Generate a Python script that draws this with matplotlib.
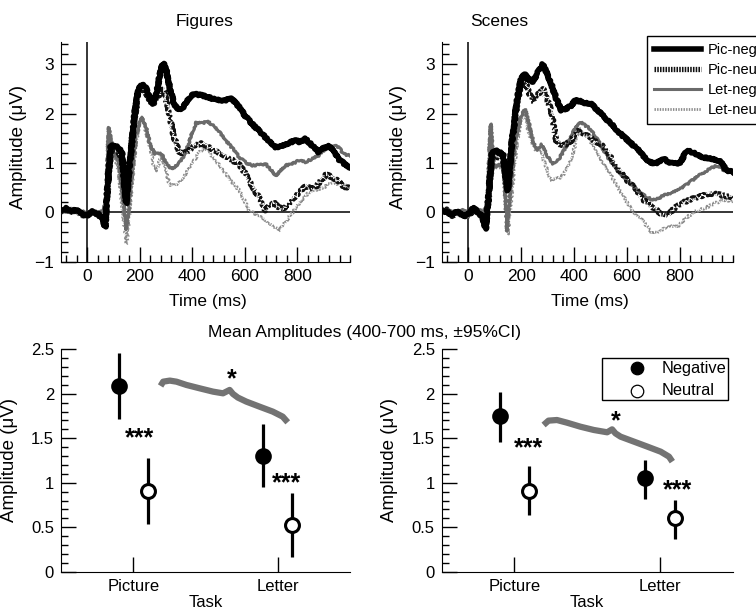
import numpy as np
import matplotlib
matplotlib.use("Agg")
import matplotlib.pyplot as plt
from matplotlib.ticker import MultipleLocator, FormatStrFormatter
from matplotlib.lines import Line2D
from matplotlib.patches import Rectangle

plt.rcParams['font.family'] = ['Liberation Sans', 'DejaVu Sans']

W, H = 756.0, 613.0

# ---- ERP waveforms, (time ms, amplitude uV) ----
fig_picneg = [(-100, 0.05), (-80, 0.08), (-60, 0.02), (-40, 0.06), (-20, -0.04), (0, -0.08), (20, 0.02),
              (40, -0.03), (58, -0.12), (68, -0.3), (78, 0.6), (90, 1.35), (105, 1.35), (120, 1.3),
              (132, 1.2), (140, 0.7), (148, 0.18), (160, 0.9), (180, 2.0), (195, 2.5), (210, 2.6),
              (225, 2.5), (240, 2.3), (251, 2.2), (265, 2.45), (280, 2.9), (290, 3.02), (300, 2.9),
              (315, 2.5), (330, 2.2), (345, 2.08), (360, 2.1), (380, 2.25), (400, 2.4), (428, 2.38),
              (460, 2.33), (490, 2.28), (520, 2.25), (547, 2.32), (575, 2.15), (604, 1.93), (635, 1.75),
              (667, 1.58), (695, 1.42), (717, 1.32), (735, 1.34), (755, 1.38), (775, 1.42), (792, 1.46),
              (810, 1.42), (830, 1.49), (862, 1.32), (880, 1.22), (893, 1.28), (918, 1.35), (935, 1.25),
              (956, 1.08), (975, 1.0), (1000, 0.88)]
fig_picneu = [(-100, 0.02), (-80, 0.06), (-60, 0.0), (-40, 0.05), (-20, -0.06), (0, -0.05), (20, 0.03),
              (40, -0.05), (58, -0.1), (68, -0.28), (78, 0.5), (90, 1.25), (105, 1.25), (120, 1.2),
              (132, 1.1), (140, 0.6), (148, 0.2), (160, 0.85), (180, 1.9), (195, 2.4), (210, 2.5),
              (225, 2.4), (240, 2.25), (251, 2.2), (265, 2.3), (280, 2.45), (289, 2.5), (300, 2.3),
              (314, 1.95), (328, 1.55), (340, 1.38), (350, 1.22), (365, 1.2), (385, 1.25), (410, 1.35),
              (434, 1.4), (460, 1.32), (503, 1.2), (540, 1.1), (579, 0.96), (600, 0.8), (617, 0.62),
              (635, 0.45), (654, 0.3), (668, 0.12), (680, 0.04), (695, 0.15), (710, 0.2), (725, 0.12),
              (742, 0.06), (767, 0.16), (785, 0.28), (805, 0.4), (830, 0.54), (850, 0.48), (868, 0.5),
              (890, 0.65), (912, 0.78), (930, 0.7), (943, 0.68), (965, 0.58), (981, 0.5), (1000, 0.5)]
fig_letneg = [(-100, 0.0), (-80, 0.05), (-60, 0.08), (-40, 0.0), (-20, 0.02), (0, -0.02), (20, 0.04),
              (40, 0.0), (60, 0.02), (70, 0.2), (82, 1.72), (95, 1.3), (107, 1.18), (120, 1.0),
              (135, 0.3), (150, -0.35), (165, 0.5), (185, 1.5), (200, 1.85), (210, 1.92), (225, 1.7),
              (240, 1.35), (258, 1.18), (270, 1.2), (283, 1.18), (300, 1.0), (321, 0.88), (340, 0.95),
              (358, 1.05), (380, 1.3), (402, 1.66), (415, 1.82), (440, 1.8), (455, 1.85), (478, 1.76),
              (503, 1.62), (528, 1.45), (555, 1.28), (579, 1.11), (605, 1.0), (629, 0.95), (655, 0.96),
              (679, 0.98), (700, 0.85), (717, 0.74), (735, 0.85), (755, 0.95), (780, 0.98), (805, 1.05),
              (830, 1.02), (855, 1.08), (880, 1.15), (905, 1.28), (925, 1.3), (943, 1.35), (960, 1.3),
              (975, 1.18), (1000, 1.15)]
fig_letneu = [(-100, 0.03), (-80, 0.0), (-60, 0.1), (-40, -0.02), (-20, -0.08), (0, -0.1), (20, 0.0),
              (40, -0.02), (60, 0.0), (70, 0.2), (82, 1.7), (95, 1.25), (107, 1.1), (120, 0.8),
              (135, 0.0), (150, -0.64), (165, 0.3), (185, 1.4), (200, 1.85), (210, 1.9), (225, 1.6),
              (239, 1.32), (252, 0.95), (264, 0.84), (275, 1.05), (283, 1.15), (298, 0.85), (314, 0.54),
              (330, 0.55), (346, 0.57), (365, 0.7), (383, 0.85), (402, 1.0), (421, 1.18), (446, 1.32),
              (460, 1.25), (478, 1.11), (503, 0.95), (528, 0.78), (553, 0.6), (579, 0.44), (600, 0.22),
              (617, 0.03), (635, -0.02), (654, -0.07), (672, -0.15), (692, -0.24), (712, -0.3),
              (730, -0.37), (748, -0.25), (767, -0.1), (785, 0.02), (805, 0.17), (825, 0.3), (843, 0.4),
              (862, 0.45), (880, 0.47), (905, 0.52), (930, 0.61), (950, 0.58), (968, 0.57), (1000, 0.5)]

scn_picneg = [(-100, 0.05), (-80, 0.0), (-60, -0.05), (-40, 0.03), (-20, -0.08), (0, -0.05), (20, 0.1),
              (40, -0.02), (55, -0.1), (66, -0.34), (78, 0.4), (90, 1.2), (103, 1.25), (118, 1.22),
              (133, 1.15), (140, 0.8), (150, 0.44), (165, 1.4), (185, 2.3), (200, 2.7), (212, 2.8),
              (225, 2.72), (240, 2.63), (255, 2.75), (270, 2.9), (281, 3.0), (295, 2.85), (314, 2.6),
              (333, 2.3), (352, 2.06), (370, 2.1), (389, 2.16), (405, 2.28), (416, 2.26), (440, 2.22),
              (466, 2.19), (491, 2.06), (516, 1.92), (541, 1.79), (565, 1.65), (590, 1.52), (615, 1.4),
              (640, 1.28), (660, 1.15), (677, 1.05), (702, 0.98), (720, 1.02), (739, 1.08), (758, 1.02),
              (777, 0.98), (802, 1.01), (826, 1.25), (851, 1.21), (870, 1.15), (888, 1.11), (910, 1.1),
              (926, 1.08), (945, 1.05), (957, 1.01), (975, 0.85), (1000, 0.82)]
scn_picneu = [(-100, 0.02), (-80, 0.05), (-60, -0.08), (-40, 0.0), (-20, -0.05), (0, -0.1), (20, 0.06),
              (40, 0.0), (55, -0.12), (66, -0.3), (78, 0.35), (90, 1.1), (103, 1.15), (118, 1.1),
              (133, 1.05), (140, 0.75), (150, 0.45), (165, 1.35), (185, 2.2), (200, 2.6), (212, 2.7),
              (228, 2.45), (246, 2.23), (265, 2.4), (283, 2.5), (298, 2.3), (314, 2.06), (333, 1.45),
              (352, 1.35), (370, 1.38), (389, 1.45), (405, 1.6), (416, 1.65), (441, 1.58), (460, 1.52),
              (478, 1.45), (498, 1.38), (516, 1.31), (535, 1.15), (553, 0.98), (570, 0.85), (590, 0.71),
              (610, 0.6), (628, 0.5), (648, 0.36), (665, 0.24), (690, 0.12), (715, 0.03), (735, -0.05),
              (752, -0.07), (777, 0.07), (795, 0.14), (814, 0.2), (840, 0.26), (864, 0.3), (890, 0.35),
              (913, 0.38), (940, 0.37), (963, 0.34), (1000, 0.3)]
scn_letneg = [(-100, 0.0), (-80, 0.06), (-60, 0.02), (-40, -0.04), (-20, 0.05), (0, -0.02), (20, 0.0),
              (40, 0.05), (60, 0.0), (72, 0.2), (85, 1.79), (97, 0.91), (116, 0.98), (134, 0.91),
              (147, -0.37), (160, 0.5), (180, 1.5), (200, 1.95), (215, 2.09), (230, 1.8), (245, 1.45),
              (259, 1.25), (277, 1.38), (298, 1.15), (320, 0.98), (345, 1.1), (376, 1.38), (400, 1.65),
              (416, 1.79), (426, 1.82), (453, 1.72), (472, 1.6), (491, 1.45), (510, 1.28), (528, 1.11),
              (547, 0.98), (566, 0.84), (585, 0.74), (603, 0.64), (620, 0.55), (640, 0.44), (660, 0.36),
              (678, 0.3), (698, 0.25), (715, 0.27), (735, 0.33), (752, 0.37), (770, 0.4), (790, 0.44),
              (810, 0.5), (827, 0.57), (845, 0.64), (864, 0.71), (882, 0.78), (901, 0.84), (920, 0.9),
              (938, 0.94), (955, 0.9), (969, 0.84), (1000, 0.8)]
scn_letneu = [(-100, 0.04), (-80, -0.02), (-60, 0.05), (-40, -0.06), (-20, 0.0), (0, -0.12), (20, 0.05),
              (40, -0.04), (60, 0.02), (72, 0.2), (85, 1.75), (97, 0.88), (116, 0.95), (134, 0.85),
              (150, -0.44), (165, 0.4), (185, 1.45), (200, 1.85), (212, 1.99), (230, 1.6), (252, 1.25),
              (271, 1.31), (292, 0.95), (314, 0.64), (333, 0.68), (352, 0.71), (370, 0.85), (389, 1.05),
              (406, 1.4), (416, 1.7), (430, 1.65), (453, 1.52), (472, 1.35), (491, 1.18), (510, 1.0),
              (528, 0.84), (547, 0.68), (566, 0.51), (585, 0.34), (603, 0.17), (620, 0.05), (634, -0.07),
              (650, -0.12), (665, -0.2), (680, -0.32), (696, -0.44), (712, -0.4), (727, -0.37),
              (745, -0.32), (765, -0.27), (790, -0.3), (808, -0.2), (827, -0.1), (845, -0.03),
              (864, 0.03), (882, 0.06), (901, 0.1), (920, 0.15), (938, 0.2), (955, 0.22), (975, 0.24),
              (1000, 0.22)]

wave_labels = ['Pic-neg', 'Pic-neu', 'Let-neg', 'Let-neu']

# ---- mean amplitudes 400-700 ms with 95% CI ----
tasks = ['Picture', 'Letter']
fig_neg_mean = [2.09, 1.30]
fig_neg_lo = [1.72, 0.95]
fig_neg_hi = [2.46, 1.66]
fig_neu_mean = [0.91, 0.53]
fig_neu_lo = [0.54, 0.17]
fig_neu_hi = [1.28, 0.89]

scn_neg_mean = [1.75, 1.05]
scn_neg_lo = [1.46, 0.82]
scn_neg_hi = [2.02, 1.26]
scn_neu_mean = [0.91, 0.60]
scn_neu_lo = [0.64, 0.37]
scn_neu_hi = [1.19, 0.81]

# interaction bracket (gray curly line) + significance marks
fig_brace_x = [1.189, 1.207, 1.253, 1.299, 1.368, 1.460, 1.552, 1.621, 1.667, 1.690, 1.724, 1.782, 1.874, 1.966, 2.034, 2.069]
fig_brace_y = [2.088, 2.136, 2.148, 2.136, 2.099, 2.061, 2.024, 2.005, 2.043, 1.998, 1.957, 1.912, 1.855, 1.799, 1.743, 1.679]
scn_brace_x = [1.200, 1.234, 1.292, 1.361, 1.453, 1.545, 1.637, 1.671, 1.694, 1.729, 1.821, 1.913, 2.005, 2.062, 2.085]
scn_brace_y = [1.649, 1.698, 1.705, 1.675, 1.630, 1.593, 1.567, 1.600, 1.555, 1.518, 1.462, 1.406, 1.349, 1.293, 1.237]
fig_stars = [(1.046, 1.50, '***'), (2.06, 0.99, '***'), (1.683, 2.16, '*')]
scn_stars = [(1.094, 1.39, '***'), (2.12, 0.92, '***'), (1.694, 1.69, '*')]


def px(x, y):
	# figure pixel (from top-left) -> figure fraction
	return x / W, 1 - y / H


def style_wave_axes(ax):
	ax.set_xlim(-100, 1000)
	ax.set_ylim(-1, 3.45)
	ax.spines['top'].set_visible(False)
	ax.spines['right'].set_visible(False)
	ax.xaxis.set_major_locator(MultipleLocator(200))
	ax.xaxis.set_minor_locator(MultipleLocator(40))
	ax.yaxis.set_major_locator(MultipleLocator(1))
	ax.yaxis.set_minor_locator(MultipleLocator(0.2))
	ax.set_xticks([0, 200, 400, 600, 800])
	ax.tick_params(which='both', direction='in', top=False, right=False, labelsize=12.5, pad=5)
	ax.tick_params(which='major', length=11, width=1)
	ax.tick_params(which='minor', length=5, width=1)
	ax.axhline(0, color='k', lw=1.1, zorder=1)
	ax.axvline(0, color='k', lw=1.1, zorder=1)
	ax.set_xlabel('Time (ms)', fontsize=12.5)
	ax.xaxis.set_label_coords(0.509, -0.145)
	ax.set_ylabel('Amplitude (\u03bcV)', fontsize=13.5)
	ax.yaxis.set_label_coords(-0.118, 0.52)


def draw_waves(ax, picneg, picneu, letneg, letneu):
	styles = [
		(letneu, dict(color='#8c8c8c', lw=2.0, ls=(0, (0.5, 0.45)))),
		(letneg, dict(color='#6a6a6a', lw=2.2, ls='-')),
		(picneu, dict(color='#111111', lw=3.8, ls=(0, (0.3, 0.22)))),
		(picneg, dict(color='#000000', lw=4.0, ls='-')),
	]
	for pts, st in styles:
		t = [p[0] for p in pts]
		v = [p[1] for p in pts]
		ln, = ax.plot(t, v, zorder=3, **st)
		ln.set_sketch_params(scale=0.9, length=2.5, randomness=3)


def style_mean_axes(ax):
	ax.set_xlim(0.5, 2.5)
	ax.set_ylim(0, 2.5)
	ax.spines['top'].set_visible(False)
	ax.spines['right'].set_visible(False)
	ax.set_xticks([1, 2])
	ax.set_xticklabels(tasks)
	ax.yaxis.set_major_locator(MultipleLocator(0.5))
	ax.yaxis.set_minor_locator(MultipleLocator(0.1))
	ax.yaxis.set_major_formatter(FormatStrFormatter('%g'))
	ax.tick_params(which='both', direction='in', top=False, right=False, labelsize=12, pad=5)
	ax.tick_params(which='major', length=11, width=1)
	ax.tick_params(which='minor', length=5, width=1)
	ax.set_xlabel('Task', fontsize=12, va='top')
	ax.xaxis.set_label_coords(0.5, -0.105)
	ax.set_ylabel('Amplitude (\u03bcV)', fontsize=13.5)
	ax.yaxis.set_label_coords(-0.149, 0.5)


def draw_means(ax, neg, neg_lo, neg_hi, neu, neu_lo, neu_hi, bx, by, stars):
	x = np.arange(1, len(tasks) + 1)
	neg_err = [np.array(neg) - np.array(neg_lo), np.array(neg_hi) - np.array(neg)]
	neu_err = [np.array(neu) - np.array(neu_lo), np.array(neu_hi) - np.array(neu)]
	ax.errorbar(x - 0.1, neg, yerr=neg_err, fmt='o', ms=10, mfc='k', mec='k', mew=2,
		ecolor='k', elinewidth=2.3, capsize=0, zorder=3)
	ax.errorbar(x + 0.1, neu, yerr=neu_err, fmt='o', ms=10, mfc='white', mec='k', mew=2.2,
		ecolor='k', elinewidth=2.3, capsize=0, zorder=3)
	ax.plot(bx, by, color='#737373', lw=4.5, solid_capstyle='butt', solid_joinstyle='round', zorder=2)
	for sx, sy, s in stars:
		ax.text(sx, sy, s, ha='center', va='center', fontsize=18, fontweight='bold')


fig = plt.figure(figsize=(7.56, 6.13), dpi=100)

ax1 = fig.add_axes([0.0807, 0.5731, 0.3823, 0.3584])
ax2 = fig.add_axes([0.5843, 0.5731, 0.3849, 0.3584])
ax3 = fig.add_axes([0.0807, 0.0674, 0.3823, 0.3628])
ax4 = fig.add_axes([0.5843, 0.0674, 0.3849, 0.3628])

for ax in (ax1, ax2):
	style_wave_axes(ax)
draw_waves(ax1, fig_picneg, fig_picneu, fig_letneg, fig_letneu)
draw_waves(ax2, scn_picneg, scn_picneu, scn_letneg, scn_letneu)

# legend for waveforms (runs off the right edge like the original)
handles = [
	Line2D([], [], color='#000000', lw=4.0),
	Line2D([], [], color='#111111', lw=3.8, ls=(0, (0.3, 0.22))),
	Line2D([], [], color='#6a6a6a', lw=2.2),
	Line2D([], [], color='#8c8c8c', lw=2.0, ls=(0, (0.5, 0.45))),
]
leg = fig.legend(handles, wave_labels, loc='upper left', bbox_to_anchor=px(647, 36),
	fontsize=10.5, frameon=True, fancybox=False, framealpha=1, edgecolor='k',
	handlelength=3.2, handletextpad=0.45, labelspacing=0.4, borderpad=0.5, borderaxespad=0)
leg.get_frame().set_linewidth(1)

for ax in (ax3, ax4):
	style_mean_axes(ax)
draw_means(ax3, fig_neg_mean, fig_neg_lo, fig_neg_hi, fig_neu_mean, fig_neu_lo, fig_neu_hi,
	fig_brace_x, fig_brace_y, fig_stars)
draw_means(ax4, scn_neg_mean, scn_neg_lo, scn_neg_hi, scn_neu_mean, scn_neu_lo, scn_neu_hi,
	scn_brace_x, scn_brace_y, scn_stars)

# Negative / Neutral key, boxed, drawn in figure pixels
x0, y0 = px(601.7, 400)
x1, y1 = px(728, 358.3)
fig.patches.append(Rectangle((x0, y0), x1 - x0, y1 - y0, transform=fig.transFigure,
	facecolor='white', edgecolor='k', lw=1, zorder=5))
for (yy, fc, lab) in [(368.3, 'k', 'Negative'), (390.7, 'white', 'Neutral')]:
	mx, my = px(636.7, yy)
	fig.add_artist(Line2D([mx], [my], marker='o', ms=9, mfc=fc, mec='k', mew=0.9,
		transform=fig.transFigure, zorder=6))
	tx, ty = px(661.7, yy)
	fig.text(tx, ty, lab, ha='left', va='center', fontsize=11.8, zorder=6)

fig.text(*px(205, 21.7), 'Figures', ha='center', va='center', fontsize=12.5)
fig.text(*px(499, 21.7), 'Scenes', ha='center', va='center', fontsize=12.5)
fig.text(*px(364, 333), 'Mean Amplitudes (400-700 ms, \u00b195%CI)', ha='center', va='center', fontsize=12.5)

fig.savefig('out.png', dpi=100)
